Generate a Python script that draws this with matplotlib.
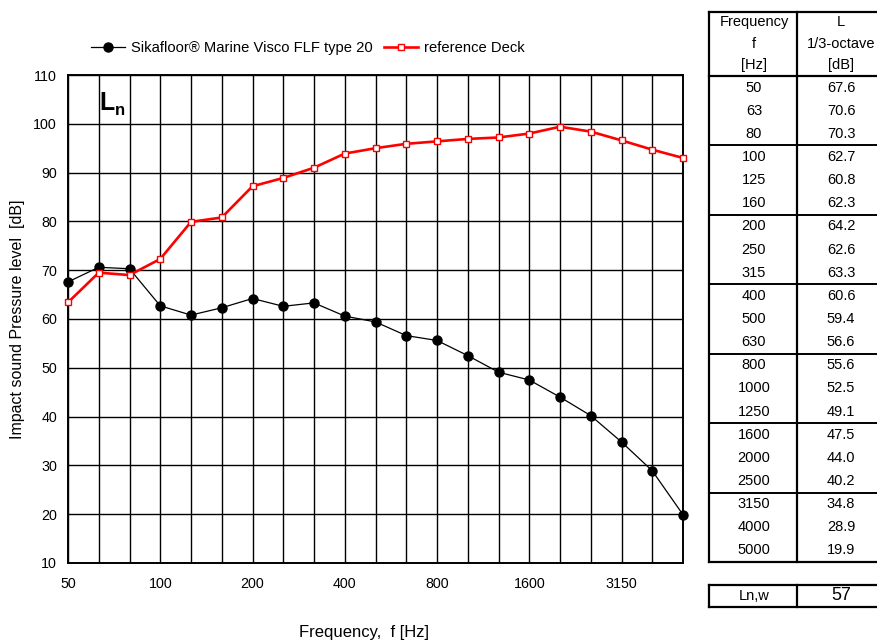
import matplotlib
matplotlib.use("Agg")
import matplotlib.pyplot as plt
from matplotlib.lines import Line2D

plt.rcParams['font.family'] = ['Liberation Sans', 'DejaVu Sans']

# 1/3-octave band centre frequencies [Hz]
freqs = [50, 63, 80, 100, 125, 160, 200, 250, 315, 400, 500, 630,
         800, 1000, 1250, 1600, 2000, 2500, 3150, 4000, 5000]
# Sikafloor Marine Visco FLF type 20 [dB]
sika = [67.6, 70.6, 70.3, 62.7, 60.8, 62.3, 64.2, 62.6, 63.3, 60.6, 59.4, 56.6,
        55.6, 52.5, 49.1, 47.5, 44.0, 40.2, 34.8, 28.9, 19.9]
# reference deck [dB]
ref_deck = [63.4, 69.5, 69.0, 72.3, 79.9, 80.8, 87.2, 88.9, 91.0, 93.9, 95.0, 95.9,
            96.4, 96.9, 97.2, 98.0, 99.4, 98.4, 96.6, 94.7, 93.0]
xtick_labels = ['50', '100', '200', '400', '800', '1600', '3150']
ln_w = 57

W, H = 877, 644
fig = plt.figure(figsize=(W / 100, H / 100), dpi=100)

# main chart
x0, x1, y0, y1 = 68, 683, 75, 563
ax = fig.add_axes([x0 / W, 1 - y1 / H, (x1 - x0) / W, (y1 - y0) / H])
idx = list(range(len(freqs)))

ax.plot(idx, sika, color='black', lw=0.9, marker='o', ms=6.5,
        label='Sikafloor\u00ae Marine Visco FLF type 20', zorder=4, clip_on=False)
ax.plot(idx, ref_deck, color='red', lw=1.9, marker='s', ms=4.8, mfc='white',
        mec='red', mew=1.0, label='reference Deck', zorder=5, clip_on=False)

ax.set_xlim(0, len(freqs) - 1)
ax.set_ylim(10, 110)
ax.set_yticks(range(10, 111, 10))
ax.set_xticks(idx, minor=True)
ax.set_xticks(idx[::3])
ax.set_xticklabels(xtick_labels)
ax.tick_params(axis='both', which='both', length=0, labelsize=10.3, pad=8)
ax.tick_params(axis='x', pad=10)
ax.grid(True, which='both', axis='x', color='black', lw=1.0)
ax.grid(True, which='major', axis='y', color='black', lw=1.0)
for s in ax.spines.values():
    s.set_linewidth(1.4)
ax.set_ylabel('Impact sound Pressure level  [dB]', fontsize=11.5, labelpad=6)

fig.legend(loc='center', bbox_to_anchor=(308 / W, 1 - 48 / H), ncol=2,
           frameon=False, fontsize=10.6, handlelength=2.3, handletextpad=0.4,
           columnspacing=0.8)

# overlay in pixel coordinates for table and annotations
ov = fig.add_axes([0, 0, 1, 1])
ov.set_xlim(0, W)
ov.set_ylim(H, 0)
ov.axis('off')
ov.patch.set_visible(False)

ov.text(99, 110, 'L', fontsize=18, fontweight='bold', ha='left', va='baseline')
ov.text(115, 115, 'n', fontsize=12, fontweight='bold', ha='left', va='baseline')
ov.text(364, 632, 'Frequency,  f [Hz]', fontsize=12, ha='center', va='center')

# table
tl, tm, tr = 709, 797, 880
t_top, h_bot = 12, 76
row_h = (562 - h_bot) / len(freqs)
t_bot = h_bot + row_h * len(freqs)


def hline(y, lw):
    ov.add_line(Line2D([tl, tr], [y, y], color='black', lw=lw, clip_on=False))


def vline(x, ya, yb, lw):
    ov.add_line(Line2D([x, x], [ya, yb], color='black', lw=lw, clip_on=False))


hline(t_top, 1.6)
hline(h_bot, 1.6)
hline(t_bot, 1.6)
for g in range(3, len(freqs), 3):
    hline(h_bot + g * row_h, 1.4)
vline(tl, t_top, t_bot, 1.6)
vline(tm, t_top, t_bot, 1.6)

cf, cv = 754, 841
for txt_f, txt_v, yy in [('Frequency', 'L', 22), ('f', '1/3-octave', 44), ('[Hz]', '[dB]', 65)]:
    ov.text(cf, yy, txt_f, fontsize=10.5, ha='center', va='center')
    ov.text(cv, yy, txt_v, fontsize=10.5, ha='center', va='center')
for i, (f, v) in enumerate(zip(freqs, sika)):
    yy = h_bot + (i + 0.5) * row_h
    ov.text(cf, yy, str(f), fontsize=10.5, ha='center', va='center')
    ov.text(cv, yy, f'{v:.1f}', fontsize=10.5, ha='center', va='center')

# Ln,w box
b_top, b_bot = 585, 607
ov.add_line(Line2D([tl, tr], [b_top, b_top], color='black', lw=1.6, clip_on=False))
ov.add_line(Line2D([tl, tr], [b_bot, b_bot], color='black', lw=1.6, clip_on=False))
vline(tl, b_top, b_bot, 1.6)
vline(tm, b_top, b_bot, 1.6)
ov.text(cf, (b_top + b_bot) / 2, 'Ln,w', fontsize=10.5, ha='center', va='center')
ov.text(cv, (b_top + b_bot) / 2, str(ln_w), fontsize=13, ha='center', va='center')

fig.savefig('out.png', dpi=100)
